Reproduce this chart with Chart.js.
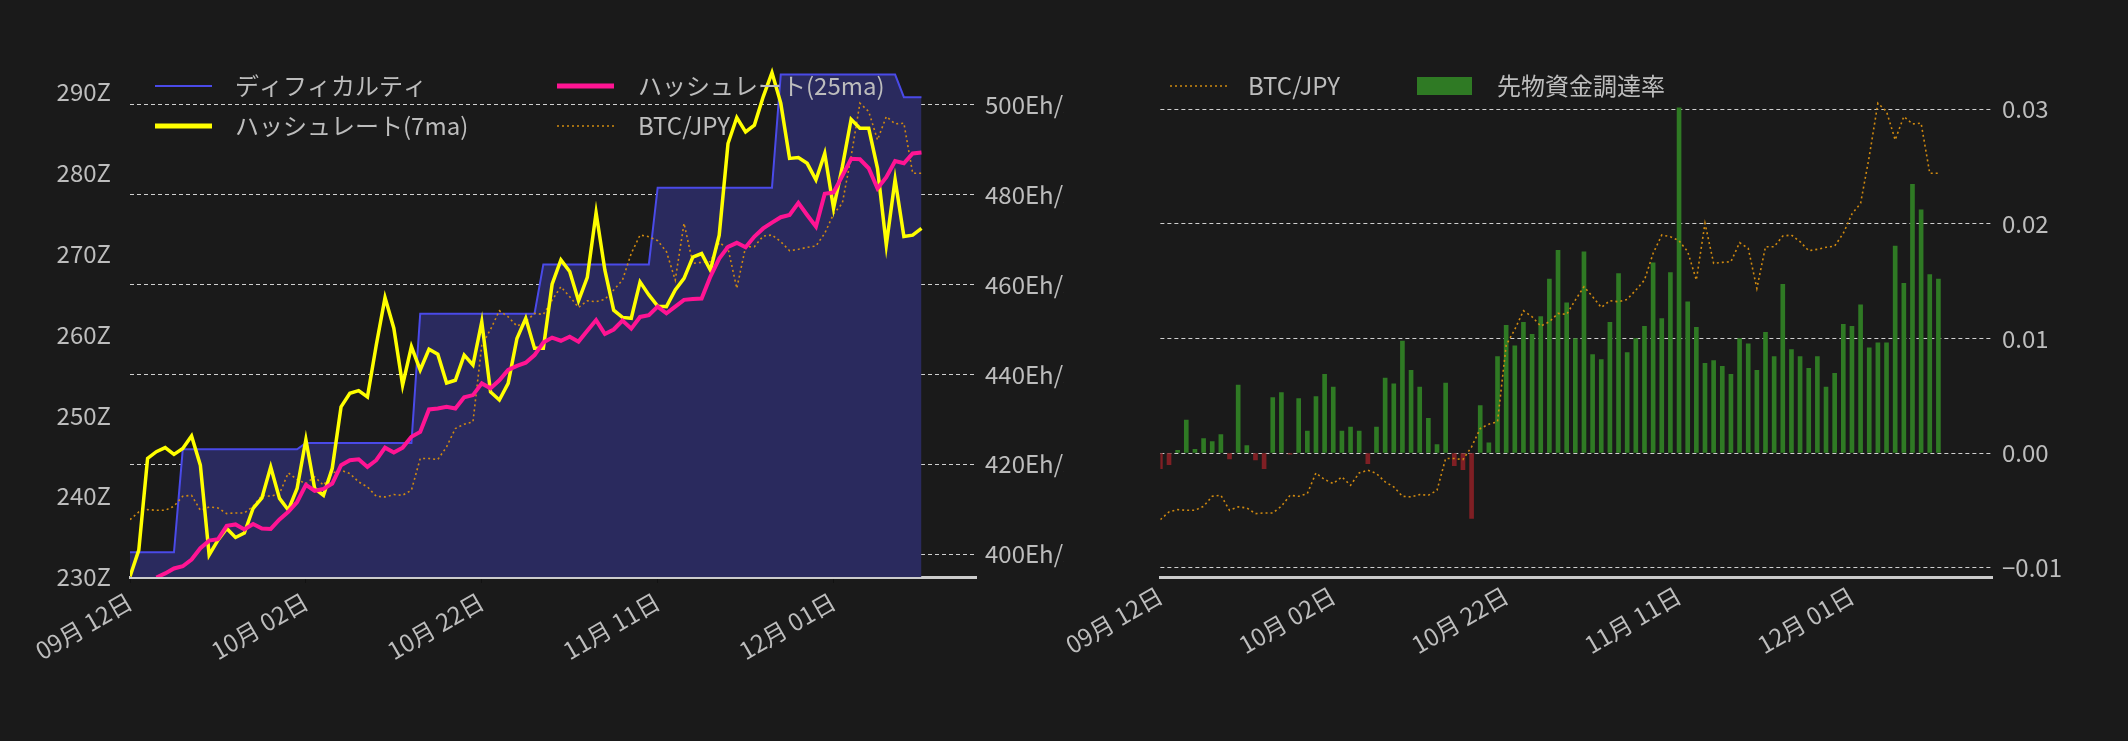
<!DOCTYPE html>
<html><head><meta charset="utf-8">
<script src="https://cdn.jsdelivr.net/npm/chart.js@4"></script>
<style>
html,body{margin:0;padding:0;background:#1a1a1a;}
#wrap{position:relative;width:2128px;height:741px;}
canvas{position:absolute;top:0;}
</style></head><body>
<div id="wrap">
<canvas id="c1" width="1064" height="741" style="left:0;width:1064px;height:741px"></canvas>
<canvas id="c2" width="1064" height="741" style="left:1064px;width:1064px;height:741px"></canvas>
</div>
<script>
const tickDays=[0,20,40,60,80];
const tickLabels=['09月 12日','10月 02日','10月 22日','11月 11日','12月 01日'];
const difficulty=[233.05,233.05,233.05,233.05,233.05,233.05,245.8,245.8,245.8,245.8,245.8,245.8,245.8,245.8,245.8,245.8,245.8,245.8,245.8,245.8,246.6,246.6,246.6,246.6,246.6,246.6,246.6,246.6,246.6,246.6,246.6,246.6,246.6,262.6,262.6,262.6,262.6,262.6,262.6,262.6,262.6,262.6,262.6,262.6,262.6,262.6,262.6,268.7,268.7,268.7,268.7,268.7,268.7,268.7,268.7,268.7,268.7,268.7,268.7,268.7,278.2,278.2,278.2,278.2,278.2,278.2,278.2,278.2,278.2,278.2,278.2,278.2,278.2,278.2,292.2,292.2,292.2,292.2,292.2,292.2,292.2,292.2,292.2,292.2,292.2,292.2,292.2,292.2,289.4,289.4,289.4];
const hash7=[395.0,400.9,421.3,422.8,423.7,422.2,423.5,426.3,419.8,399.8,403.1,405.7,403.7,404.7,410.2,412.5,419.4,412.4,409.8,414.6,425.5,414.6,413.1,419.1,432.8,435.8,436.4,435.0,446.5,457.1,450.3,437.6,446.2,441.0,445.6,444.5,438.1,438.7,444.3,442.1,451.7,436.1,434.3,438.0,448.0,452.5,445.8,445.8,460.1,465.5,462.9,456.4,461.6,476.0,463.2,454.3,452.7,452.5,460.6,457.7,455.2,455.1,458.8,461.4,466.1,466.9,463.2,471.0,491.4,497.2,494.0,495.5,501.8,507.2,500.4,488.1,488.3,487.0,483.3,489.2,477.0,486.2,496.8,494.8,494.8,485.9,468.8,483.4,470.7,471.0,472.5];
const hash25=[null,null,null,394.8,395.7,396.8,397.3,398.8,401.3,403.0,403.3,406.3,406.6,405.5,406.7,405.7,405.6,407.7,409.4,411.6,415.4,414.1,414.5,415.7,419.8,420.9,421.1,419.4,420.9,423.7,422.6,423.7,426.1,427.2,432.2,432.4,432.8,432.4,434.9,435.4,438.0,436.9,438.7,441.0,441.9,442.6,444.3,447.1,448.2,447.5,448.4,447.3,449.7,452.1,449.0,450.0,452.0,450.2,452.8,453.2,455.1,453.6,455.1,456.6,456.8,456.9,461.8,465.8,468.4,469.3,468.3,470.7,472.5,473.8,475.0,475.5,478.2,475.5,472.9,480.2,480.5,484.2,488.0,487.9,485.9,481.4,483.9,487.5,487.0,489.2,489.4];
const btc=[11.47,13.0,13.47,13.33,13.33,14.13,16.13,16.33,13.33,14.0,13.8,12.67,12.8,12.8,14.13,16.33,16.13,16.67,20.8,19.47,18.67,20.0,18.33,20.8,21.33,20.67,19.0,18.0,16.13,16.0,16.47,16.33,17.33,23.67,23.67,23.47,26.0,29.67,30.53,31.0,46.33,49.47,53.2,52.0,50.13,51.0,52.67,52.47,55.33,58.0,56.0,53.87,55.2,55.0,55.47,57.33,59.33,64.67,68.33,68.0,67.2,65.0,59.33,70.67,62.67,62.87,63.0,66.8,65.67,57.67,66.0,66.0,68.13,68.33,67.0,65.2,65.47,65.87,66.13,68.67,72.53,74.67,84.0,94.67,93.0,87.33,92.0,90.53,90.67,80.67,80.67];
const funding=[-1.37,-1.02,0.23,2.88,0.32,1.25,0.99,1.60,-0.52,5.94,0.64,-0.61,-1.37,4.83,5.27,-0.09,4.75,1.92,4.92,6.87,5.76,1.92,2.27,1.92,-0.93,2.27,6.55,6.03,9.78,7.22,5.76,3.03,0.73,6.11,-1.11,-1.46,-5.71,4.13,0.90,8.41,11.15,9.35,11.41,10.36,11.91,15.17,17.70,13.10,9.99,17.55,8.59,8.15,11.41,15.66,8.76,9.99,11.06,16.59,11.73,15.75,30.13,13.19,10.98,7.83,8.06,7.57,6.87,9.99,9.52,7.22,10.54,8.41,14.73,9.02,8.41,7.39,8.41,5.76,6.96,11.24,11.06,12.93,9.17,9.61,9.61,18.05,14.82,23.44,21.22,15.57,15.17].map(v=>v/1000);
const diffTicks=[230,240,250,260,270,280,290];
const hashTicks=[400,420,440,460,480,500];
const fundTicks=[-0.01,0,0.01,0.02,0.03];

const FONT="'Noto Sans CJK JP','Noto Sans',sans-serif";
const TXT='#bdbdbd', GRID='#cfcfcf';
const xy=a=>a.map((v,i)=>({x:i,y:v}));
const setTicks=vals=>(s=>{s.ticks=vals.map(v=>({value:v}));});
function xScale(drawTicks){return{type:'linear',min:0,max:96.2,
  afterBuildTicks:setTicks(tickDays),
  afterFit:s=>{s.height=164;},
  grid:{display:true,drawOnChartArea:false,drawTicks:drawTicks,tickLength:6,color:'#111'},
  border:{display:true,color:'#cccccc',width:3},
  ticks:{color:TXT,font:{family:FONT,size:24},minRotation:30,maxRotation:30,padding:4,
    callback:v=>{const k=tickDays.indexOf(v);return k>=0?tickLabels[k]:'';}}};}

function legendPlugin(items){return{id:'lg',afterDraw(c){const g=c.ctx;g.save();
  g.font="24px "+FONT;g.textBaseline='middle';
  items.forEach(it=>{g.setLineDash(it.dash||[]);
    if(it.box){g.fillStyle=it.color;g.fillRect(it.x,it.y-9,55,18);}
    else{g.strokeStyle=it.color;g.lineWidth=it.w;g.beginPath();g.moveTo(it.x,it.y);g.lineTo(it.x+57,it.y);g.stroke();}
    g.setLineDash([]);g.fillStyle=TXT;g.fillText(it.t,it.tx,it.y);});
  g.restore();}};}

new Chart(document.getElementById('c1'),{
  data:{datasets:[
    {type:'line',data:xy(difficulty),yAxisID:'yd',borderColor:'#4a4ae8',borderWidth:2,backgroundColor:'#2a2a5e',fill:'start',pointRadius:0,tension:0,order:4},
    {type:'line',data:xy(btc),yAxisID:'yb',borderColor:'#d08a10',borderWidth:1.6,borderDash:[2,3],fill:false,pointRadius:0,tension:0,order:3},
    {type:'line',data:xy(hash7),yAxisID:'yh',borderColor:'#ffff00',borderWidth:3.5,fill:false,pointRadius:0,tension:0,order:2},
    {type:'line',data:xy(hash25),yAxisID:'yh',borderColor:'#ff1493',borderWidth:4,fill:false,pointRadius:0,tension:0,order:1}
  ]},
  options:{responsive:false,animation:false,layout:{padding:{top:60,left:0,right:0,bottom:0}},
    plugins:{legend:{display:false},tooltip:{enabled:false}},
    scales:{
      x:xScale(true),
      yd:{position:'left',min:230,max:294,afterBuildTicks:setTicks(diffTicks),afterFit:s=>{s.width=130;},
        grid:{display:false},border:{display:false},
        ticks:{color:TXT,font:{family:FONT,size:24},padding:11,callback:v=>v+'Z'}},
      yh:{position:'right',min:394.9,max:510,afterBuildTicks:setTicks(hashTicks),afterFit:s=>{s.width=88;},
        grid:{display:true,drawTicks:false,color:GRID,lineWidth:1},border:{display:false,dash:[4,3]},
        ticks:{color:TXT,font:{family:FONT,size:24},padding:9,callback:v=>v+'Eh/s'}},
      yb:{display:false,min:0,max:103.3}
    }},
  plugins:[{id:'dash',beforeDraw(c){c.options.scales.yh.grid.borderDash=[4,3];}},
    legendPlugin([
    {x:155,y:86,color:'#4a4ae8',w:2,t:'ディフィカルティ',tx:235},
    {x:155,y:126,color:'#ffff00',w:5,t:'ハッシュレート(7ma)',tx:235},
    {x:557,y:86,color:'#ff1493',w:5,t:'ハッシュレート(25ma)',tx:638},
    {x:557,y:126,color:'#d08a10',w:1.6,dash:[2,3],t:'BTC/JPY',tx:638}])]
});

new Chart(document.getElementById('c2'),{
  data:{datasets:[
    {type:'line',data:xy(btc),yAxisID:'yb',borderColor:'#d08a10',borderWidth:1.6,borderDash:[2,3],fill:false,pointRadius:0,tension:0,order:1},
    {type:'bar',data:xy(funding),yAxisID:'yf',barThickness:4,
      backgroundColor:funding.map(v=>v>=0?'#2f7a24':'#7f1f24'),order:2}
  ]},
  options:{responsive:false,animation:false,layout:{padding:{top:60,left:81,right:0,bottom:0}},
    plugins:{legend:{display:false},tooltip:{enabled:false}},
    scales:{
      x:Object.assign(xScale(false),{offset:false}),
      yb:{display:false,min:0,max:103.3},
      yf:{position:'right',min:-0.01082,max:0.0343,afterBuildTicks:setTicks(fundTicks),afterFit:s=>{s.width=136;},
        grid:{display:true,drawTicks:false,color:GRID,lineWidth:1},border:{display:false,dash:[4,3]},
        ticks:{color:TXT,font:{family:FONT,size:24},padding:10,callback:v=>(v<0?'\u2212':'')+Math.abs(v).toFixed(2)}}
    }},
  plugins:[legendPlugin([
    {x:1170-1064,y:86,color:'#d08a10',w:1.6,dash:[2,3],t:'BTC/JPY',tx:1248-1064},
    {x:1417-1064,y:86,color:'#2f7a24',box:true,t:'先物資金調達率',tx:1497-1064}])]
});
</script></body></html>
